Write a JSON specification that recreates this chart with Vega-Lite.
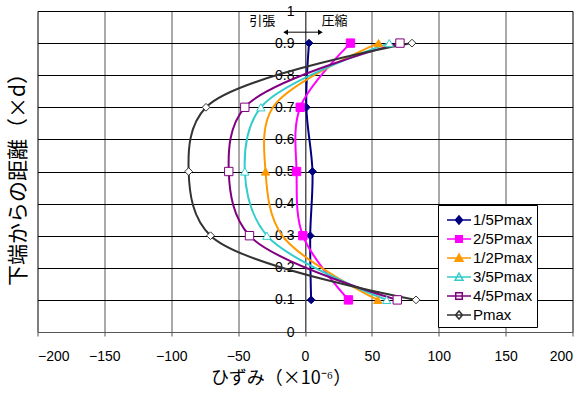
{
  "$schema": "https://vega.github.io/schema/vega-lite/v6.json",
  "width": 535,
  "height": 321,
  "autosize": {"type": "none"},
  "padding": {"left": 37.5, "top": 11, "right": 11.5, "bottom": 62},
  "background": "white",
  "config": {
    "font": "Liberation Sans",
    "view": {"stroke": "#555", "strokeWidth": 1},
    "legend": {
      "orient": "none",
      "legendX": 400.5,
      "legendY": 194,
      "padding": 4,
      "strokeColor": "#000",
      "fillColor": "#fff",
      "labelFont": "Liberation Sans",
      "labelFontSize": 15,
      "labelColor": "#000",
      "symbolSize": 400,
      "rowPadding": 0,
      "symbolOffset": 6,
      "labelOffset": 3,
      "symbolStrokeWidth": 1.5,
      "title": null
    }
  },
  "datasets": {
    "strain": [
      {"series": "1/5Pmax", "height": 0.1, "strain": 4.6},
      {"series": "1/5Pmax", "height": 0.3, "strain": 3.9},
      {"series": "1/5Pmax", "height": 0.5, "strain": 5.6},
      {"series": "1/5Pmax", "height": 0.7, "strain": 1},
      {"series": "1/5Pmax", "height": 0.9, "strain": 3},
      {"series": "2/5Pmax", "height": 0.1, "strain": 32.5},
      {"series": "2/5Pmax", "height": 0.3, "strain": -1.6},
      {"series": "2/5Pmax", "height": 0.5, "strain": -6.3},
      {"series": "2/5Pmax", "height": 0.7, "strain": -3.6},
      {"series": "2/5Pmax", "height": 0.9, "strain": 34},
      {"series": "1/2Pmax", "height": 0.1, "strain": 54.4},
      {"series": "1/2Pmax", "height": 0.3, "strain": -17},
      {"series": "1/2Pmax", "height": 0.5, "strain": -29.5},
      {"series": "1/2Pmax", "height": 0.7, "strain": -24},
      {"series": "1/2Pmax", "height": 0.9, "strain": 55},
      {"series": "3/5Pmax", "height": 0.1, "strain": 61},
      {"series": "3/5Pmax", "height": 0.3, "strain": -28.5},
      {"series": "3/5Pmax", "height": 0.5, "strain": -45},
      {"series": "3/5Pmax", "height": 0.7, "strain": -33},
      {"series": "3/5Pmax", "height": 0.9, "strain": 63},
      {"series": "4/5Pmax", "height": 0.1, "strain": 69},
      {"series": "4/5Pmax", "height": 0.3, "strain": -41.5},
      {"series": "4/5Pmax", "height": 0.5, "strain": -57},
      {"series": "4/5Pmax", "height": 0.7, "strain": -45},
      {"series": "4/5Pmax", "height": 0.9, "strain": 71},
      {"series": "Pmax", "height": 0.1, "strain": 83},
      {"series": "Pmax", "height": 0.3, "strain": -70.6},
      {"series": "Pmax", "height": 0.5, "strain": -87},
      {"series": "Pmax", "height": 0.7, "strain": -74},
      {"series": "Pmax", "height": 0.9, "strain": 80}
    ],
    "notes": [
      {"label": "引張", "strain": -32, "height": 0.969},
      {"label": "圧縮", "strain": 22, "height": 0.969}
    ],
    "arrow": [
      {"strain": -14.5, "strain_end": 11.5, "height": 0.934}
    ],
    "heads": [
      {"dir": "left", "strain": -14.5, "height": 0.934},
      {"dir": "right", "strain": 11.5, "height": 0.934}
    ]
  },
  "layer": [
    {
      "data": {"name": "strain"},
      "mark": {"type": "line", "interpolate": "catmull-rom", "strokeWidth": 2},
      "encoding": {
        "x": {
          "field": "strain", "type": "quantitative",
          "scale": {"domain": [-200, 200], "nice": false, "zero": false},
          "axis": {
            "values": [-200, -150, -100, -50, 0, 50, 100, 150, 200],
            "grid": true, "gridColor": "#555", "gridOpacity": 1,
            "tickSize": 4, "tickColor": "#555", "domainColor": "#555",
            "labelFontSize": 14, "labelColor": "#000", "labelPadding": 13,
            "title": "ひずみ（×10⁻⁶）", "titleFont": "Noto Sans CJK JP",
            "titleFontSize": 18, "titleFontWeight": "normal", "titleColor": "#000",
            "titlePadding": 6, "titleX": 243
          }
        },
        "y": {
          "field": "height", "type": "quantitative",
          "scale": {"domain": [0, 1], "nice": false, "zero": false},
          "axis": {
            "orient": "left",
            "values": [0, 0.1, 0.2, 0.3, 0.4, 0.5, 0.6, 0.7, 0.8, 0.9, 1],
            "grid": true, "gridColor": "#000", "gridOpacity": 1,
            "labels": false, "ticks": false, "domain": false,
            "title": "下端からの距離（×d）", "titleFont": "Noto Sans CJK JP",
            "titleFontSize": 21, "titleFontWeight": "normal", "titleColor": "#000",
            "titlePadding": 9, "titleY": 163
          }
        },
        "stroke": {
          "field": "series", "type": "nominal",
          "scale": {
            "domain": ["1/5Pmax", "2/5Pmax", "1/2Pmax", "3/5Pmax", "4/5Pmax", "Pmax"],
            "range": ["#000080", "#FF00FF", "#FF9900", "#33CCCC", "#800080", "#333333"]
          },
          "legend": {
            "encode": {
              "symbols": {
                "update": {
                  "shape": {"signal": "(datum.value === '1/5Pmax' || datum.value === 'Pmax') ? 'M-1.2,0H1.2M-0.35,0L0,-0.4L0.35,0L0,0.4Z' : (datum.value === '2/5Pmax' || datum.value === '4/5Pmax') ? 'M-1.2,0H1.2M-0.33,-0.33H0.33V0.33H-0.33Z' : 'M-1.2,0H1.2M0,-0.4L0.4,0.33H-0.4Z'"},
                  "strokeWidth": {"value": 1.5}
                }
              }
            }
          }
        },
        "order": {"field": "height", "type": "quantitative"}
      }
    },
    {
      "data": {"name": "strain"},
      "transform": [
        {"filter": "datum.series === '1/5Pmax' || datum.series === 'Pmax'"}
      ],
      "mark": {"type": "point", "shape": "diamond", "filled": true, "size": 60, "strokeWidth": 1, "opacity": 1},
      "encoding": {
        "x": {"field": "strain", "type": "quantitative"},
        "y": {
          "field": "height", "type": "quantitative",
          "axis": {
            "orient": "left", "offset": -267.5,
            "values": [0, 0.1, 0.2, 0.3, 0.4, 0.5, 0.6, 0.7, 0.8, 0.9, 1],
            "format": "~g",
            "grid": false, "ticks": false, "domain": true, "domainColor": "#555",
            "labelFontSize": 14, "labelColor": "#000", "labelPadding": 11,
            "title": null
          }
        },
        "fill": {
          "field": "series", "type": "nominal",
          "scale": {
            "domain": ["1/5Pmax", "2/5Pmax", "1/2Pmax", "3/5Pmax", "4/5Pmax", "Pmax"],
            "range": ["#000080", "#FF00FF", "#FF9900", "#FFFFFF", "#FFFFFF", "#FFFFFF"]
          },
          "legend": {
            "encode": {
              "symbols": {
                "update": {
                  "shape": {"signal": "(datum.value === '1/5Pmax' || datum.value === 'Pmax') ? 'M-1.2,0H1.2M-0.35,0L0,-0.4L0.35,0L0,0.4Z' : (datum.value === '2/5Pmax' || datum.value === '4/5Pmax') ? 'M-1.2,0H1.2M-0.33,-0.33H0.33V0.33H-0.33Z' : 'M-1.2,0H1.2M0,-0.4L0.4,0.33H-0.4Z'"},
                  "strokeWidth": {"value": 1.5}
                }
              }
            }
          }
        },
        "stroke": {"field": "series", "type": "nominal"}
      }
    },
    {
      "data": {"name": "strain"},
      "transform": [
        {"filter": "datum.series === '2/5Pmax' || datum.series === '4/5Pmax'"}
      ],
      "mark": {"type": "point", "shape": "square", "filled": true, "size": 70, "strokeWidth": 1, "opacity": 1},
      "encoding": {
        "x": {"field": "strain", "type": "quantitative"},
        "y": {"field": "height", "type": "quantitative", "axis": null},
        "fill": {"field": "series", "type": "nominal"},
        "stroke": {"field": "series", "type": "nominal"}
      }
    },
    {
      "data": {"name": "strain"},
      "transform": [
        {"filter": "datum.series === '3/5Pmax' || (datum.series === '1/2Pmax' && datum.height !== 0.3 && datum.height !== 0.7)"}
      ],
      "mark": {"type": "point", "shape": "triangle-up", "filled": true, "size": 70, "strokeWidth": 1, "opacity": 1},
      "encoding": {
        "x": {"field": "strain", "type": "quantitative"},
        "y": {"field": "height", "type": "quantitative", "axis": null},
        "fill": {"field": "series", "type": "nominal"},
        "stroke": {"field": "series", "type": "nominal"}
      }
    },
    {
      "data": {"name": "arrow"},
      "mark": {"type": "rule", "color": "#000", "strokeWidth": 1},
      "encoding": {
        "x": {"field": "strain", "type": "quantitative"},
        "x2": {"field": "strain_end"},
        "y": {"field": "height", "type": "quantitative", "axis": null}
      }
    },
    {
      "data": {"name": "heads"},
      "transform": [{"filter": "datum.dir === 'left'"}],
      "mark": {"type": "point", "shape": "triangle-left", "filled": true, "color": "#000", "size": 30, "opacity": 1},
      "encoding": {
        "x": {"field": "strain", "type": "quantitative"},
        "y": {"field": "height", "type": "quantitative", "axis": null}
      }
    },
    {
      "data": {"name": "heads"},
      "transform": [{"filter": "datum.dir === 'right'"}],
      "mark": {"type": "point", "shape": "triangle-right", "filled": true, "color": "#000", "size": 30, "opacity": 1},
      "encoding": {
        "x": {"field": "strain", "type": "quantitative"},
        "y": {"field": "height", "type": "quantitative", "axis": null}
      }
    },
    {
      "data": {"name": "notes"},
      "mark": {"type": "text", "font": "Noto Sans CJK JP", "fontSize": 13, "color": "#000"},
      "encoding": {
        "x": {"field": "strain", "type": "quantitative"},
        "y": {"field": "height", "type": "quantitative", "axis": null},
        "text": {"field": "label"}
      }
    }
  ],
  "resolve": {"axis": {"y": "independent"}}
}
